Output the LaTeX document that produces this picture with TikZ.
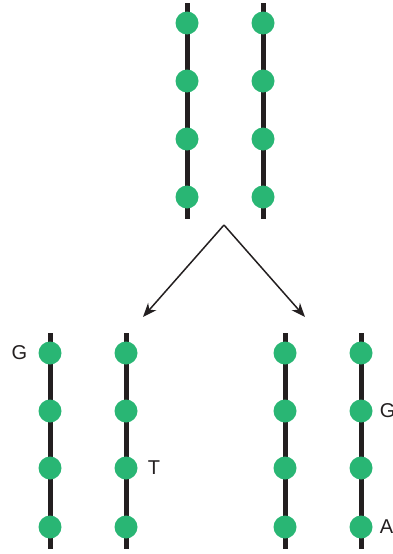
\documentclass[tikz,border=0pt]{standalone}
\usepackage{fontspec}
\setmainfont{Liberation Sans}
\usetikzlibrary{arrows.meta, positioning}
\definecolor{basegreen}{RGB}{41,182,116}
\definecolor{strandblack}{RGB}{35,31,32}

\begin{document}
\begin{tikzpicture}[x=1pt, y=-1pt, >={Stealth[length=14pt, width=11pt]},
  strand/.style={line width=5pt, strandblack},
  base/.style={circle, fill=basegreen, inner sep=0pt, minimum size=23pt},
  lbl/.style={font=\fontsize{20}{24}\selectfont, text=strandblack, inner sep=0pt}]
\useasboundingbox (0,0) rectangle (392,554);
% parent duplex: two strands, four bases each
\foreach \s/\x in {a/187, b/263} {
    \draw[strand] (\x,3) -- (\x,219);
    \foreach \i/\y in {1/23, 2/81, 3/139, 4/197}
        \node[base] (top\s\i) at (\x,\y) {};
}
% the two daughter duplexes
\foreach \s/\x in {a/50, b/126, c/285, d/361} {
    \draw[strand] (\x,333) -- (\x,549);
    \foreach \i/\y in {1/353, 2/411, 3/468, 4/527}
        \node[base] (bot\s\i) at (\x,\y) {};
}
% split arrows
\coordinate (apex) at (224,225);
\coordinate (tipL) at (143,317);
\coordinate (tipR) at (305,317);
\draw[->, line width=1.5pt, strandblack] (apex) -- (tipL);
\draw[->, line width=1.5pt, strandblack] (apex) -- (tipR);
% mismatched bases
\node[lbl, anchor=east] (labG1) at ([xshift=-11pt]bota1.west) {G};
\node[lbl, anchor=west] (labT) at ([xshift=10pt]botb3.east) {T};
\node[lbl, anchor=west] (labG2) at ([xshift=7pt]botd2.east) {G};
\node[lbl, anchor=west] (labA) at ([xshift=7pt]botd4.east) {A};
\end{tikzpicture}
\end{document}
